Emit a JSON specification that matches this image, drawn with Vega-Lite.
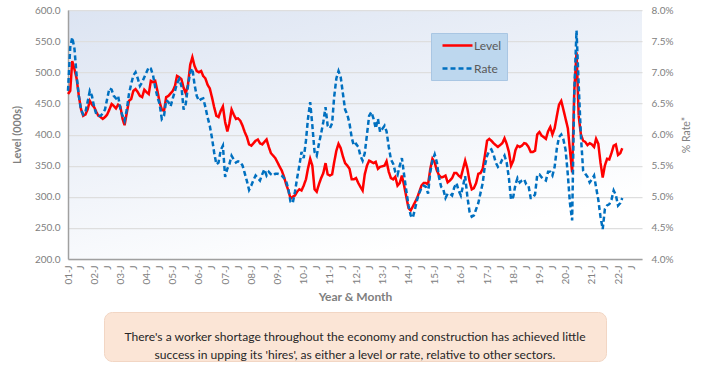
{
 "$schema": "https://vega.github.io/schema/vega-lite/v6.json",
 "background": "white",
 "padding": {"left": 11, "top": 5, "right": 5, "bottom": 5},
 "config": {"font": "Lato", "view": {"stroke": null}},
 "center": true,
 "bounds": "flush",
 "spacing": 53,
 "data": {"values": [
{"month":"2001-01-01","level":465,"rate":0.0670},{"month":"2001-02-01","level":470,"rate":0.0740},{"month":"2001-03-01","level":518,"rate":0.0756},{"month":"2001-04-01","level":505,"rate":0.0738},{"month":"2001-05-01","level":490,"rate":0.0695},{"month":"2001-06-01","level":462,"rate":0.0662},{"month":"2001-07-01","level":441,"rate":0.0640},{"month":"2001-08-01","level":430,"rate":0.0632},{"month":"2001-09-01","level":432,"rate":0.0636},{"month":"2001-10-01","level":440,"rate":0.0652},{"month":"2001-11-01","level":454,"rate":0.0670},{"month":"2001-12-01","level":448,"rate":0.0662},
{"month":"2002-01-01","level":444,"rate":0.0644},{"month":"2002-02-01","level":436,"rate":0.0632},{"month":"2002-03-01","level":430,"rate":0.0630},{"month":"2002-04-01","level":428,"rate":0.0630},{"month":"2002-05-01","level":425,"rate":0.0634},{"month":"2002-06-01","level":428,"rate":0.0640},{"month":"2002-07-01","level":432,"rate":0.0657},{"month":"2002-08-01","level":440,"rate":0.0674},{"month":"2002-09-01","level":449,"rate":0.0672},{"month":"2002-10-01","level":446,"rate":0.0662},{"month":"2002-11-01","level":442,"rate":0.0658},{"month":"2002-12-01","level":448,"rate":0.0662},
{"month":"2003-01-01","level":445,"rate":0.0641},{"month":"2003-02-01","level":425,"rate":0.0630},{"month":"2003-03-01","level":415,"rate":0.0622},{"month":"2003-04-01","level":435,"rate":0.0640},{"month":"2003-05-01","level":454,"rate":0.0665},{"month":"2003-06-01","level":457,"rate":0.0681},{"month":"2003-07-01","level":470,"rate":0.0695},{"month":"2003-08-01","level":473,"rate":0.0700},{"month":"2003-09-01","level":468,"rate":0.0690},{"month":"2003-10-01","level":462,"rate":0.0678},{"month":"2003-11-01","level":460,"rate":0.0684},{"month":"2003-12-01","level":472,"rate":0.0692},
{"month":"2004-01-01","level":468,"rate":0.0700},{"month":"2004-02-01","level":465,"rate":0.0708},{"month":"2004-03-01","level":486,"rate":0.0706},{"month":"2004-04-01","level":484,"rate":0.0695},{"month":"2004-05-01","level":486,"rate":0.0676},{"month":"2004-06-01","level":470,"rate":0.0660},{"month":"2004-07-01","level":452,"rate":0.0649},{"month":"2004-08-01","level":440,"rate":0.0625},{"month":"2004-09-01","level":438,"rate":0.0630},{"month":"2004-10-01","level":460,"rate":0.0655},{"month":"2004-11-01","level":462,"rate":0.0652},{"month":"2004-12-01","level":466,"rate":0.0645},
{"month":"2005-01-01","level":470,"rate":0.0658},{"month":"2005-02-01","level":478,"rate":0.0670},{"month":"2005-03-01","level":494,"rate":0.0682},{"month":"2005-04-01","level":492,"rate":0.0689},{"month":"2005-05-01","level":489,"rate":0.0678},{"month":"2005-06-01","level":475,"rate":0.0640},{"month":"2005-07-01","level":466,"rate":0.0649},{"month":"2005-08-01","level":480,"rate":0.0678},{"month":"2005-09-01","level":512,"rate":0.0700},{"month":"2005-10-01","level":524,"rate":0.0706},{"month":"2005-11-01","level":510,"rate":0.0680},{"month":"2005-12-01","level":502,"rate":0.0662},
{"month":"2006-01-01","level":500,"rate":0.0654},{"month":"2006-02-01","level":502,"rate":0.0657},{"month":"2006-03-01","level":494,"rate":0.0658},{"month":"2006-04-01","level":490,"rate":0.0644},{"month":"2006-05-01","level":480,"rate":0.0628},{"month":"2006-06-01","level":474,"rate":0.0614},{"month":"2006-07-01","level":460,"rate":0.0595},{"month":"2006-08-01","level":444,"rate":0.0571},{"month":"2006-09-01","level":430,"rate":0.0552},{"month":"2006-10-01","level":428,"rate":0.0555},{"month":"2006-11-01","level":438,"rate":0.0575},{"month":"2006-12-01","level":445,"rate":0.0582},
{"month":"2007-01-01","level":420,"rate":0.0532},{"month":"2007-02-01","level":405,"rate":0.0545},{"month":"2007-03-01","level":418,"rate":0.0552},{"month":"2007-04-01","level":440,"rate":0.0566},{"month":"2007-05-01","level":432,"rate":0.0560},{"month":"2007-06-01","level":425,"rate":0.0555},{"month":"2007-07-01","level":426,"rate":0.0557},{"month":"2007-08-01","level":422,"rate":0.0556},{"month":"2007-09-01","level":414,"rate":0.0550},{"month":"2007-10-01","level":404,"rate":0.0538},{"month":"2007-11-01","level":396,"rate":0.0525},{"month":"2007-12-01","level":384,"rate":0.0511},
{"month":"2008-01-01","level":382,"rate":0.0518},{"month":"2008-02-01","level":386,"rate":0.0527},{"month":"2008-03-01","level":390,"rate":0.0534},{"month":"2008-04-01","level":392,"rate":0.0530},{"month":"2008-05-01","level":386,"rate":0.0526},{"month":"2008-06-01","level":384,"rate":0.0536},{"month":"2008-07-01","level":388,"rate":0.0544},{"month":"2008-08-01","level":392,"rate":0.0534},{"month":"2008-09-01","level":380,"rate":0.0540},{"month":"2008-10-01","level":370,"rate":0.0536},{"month":"2008-11-01","level":366,"rate":0.0534},{"month":"2008-12-01","level":362,"rate":0.0537},
{"month":"2009-01-01","level":355,"rate":0.0537},{"month":"2009-02-01","level":348,"rate":0.0536},{"month":"2009-03-01","level":342,"rate":0.0534},{"month":"2009-04-01","level":332,"rate":0.0530},{"month":"2009-05-01","level":320,"rate":0.0525},{"month":"2009-06-01","level":310,"rate":0.0512},{"month":"2009-07-01","level":297,"rate":0.0492},{"month":"2009-08-01","level":300,"rate":0.0490},{"month":"2009-09-01","level":302,"rate":0.0508},{"month":"2009-10-01","level":308,"rate":0.0530},{"month":"2009-11-01","level":312,"rate":0.0550},{"month":"2009-12-01","level":310,"rate":0.0572},
{"month":"2010-01-01","level":318,"rate":0.0562},{"month":"2010-02-01","level":328,"rate":0.0590},{"month":"2010-03-01","level":345,"rate":0.0625},{"month":"2010-04-01","level":361,"rate":0.0652},{"month":"2010-05-01","level":350,"rate":0.0615},{"month":"2010-06-01","level":312,"rate":0.0572},{"month":"2010-07-01","level":308,"rate":0.0566},{"month":"2010-08-01","level":320,"rate":0.0585},{"month":"2010-09-01","level":330,"rate":0.0602},{"month":"2010-10-01","level":338,"rate":0.0620},{"month":"2010-11-01","level":354,"rate":0.0644},{"month":"2010-12-01","level":336,"rate":0.0614},
{"month":"2011-01-01","level":334,"rate":0.0610},{"month":"2011-02-01","level":336,"rate":0.0618},{"month":"2011-03-01","level":355,"rate":0.0660},{"month":"2011-04-01","level":374,"rate":0.0690},{"month":"2011-05-01","level":385,"rate":0.0702},{"month":"2011-06-01","level":378,"rate":0.0692},{"month":"2011-07-01","level":365,"rate":0.0666},{"month":"2011-08-01","level":354,"rate":0.0640},{"month":"2011-09-01","level":350,"rate":0.0632},{"month":"2011-10-01","level":345,"rate":0.0618},{"month":"2011-11-01","level":328,"rate":0.0595},{"month":"2011-12-01","level":328,"rate":0.0582},
{"month":"2012-01-01","level":330,"rate":0.0585},{"month":"2012-02-01","level":322,"rate":0.0580},{"month":"2012-03-01","level":316,"rate":0.0566},{"month":"2012-04-01","level":310,"rate":0.0558},{"month":"2012-05-01","level":336,"rate":0.0570},{"month":"2012-06-01","level":350,"rate":0.0600},{"month":"2012-07-01","level":358,"rate":0.0630},{"month":"2012-08-01","level":356,"rate":0.0636},{"month":"2012-09-01","level":354,"rate":0.0625},{"month":"2012-10-01","level":356,"rate":0.0610},{"month":"2012-11-01","level":345,"rate":0.0625},{"month":"2012-12-01","level":348,"rate":0.0604},
{"month":"2013-01-01","level":349,"rate":0.0609},{"month":"2013-02-01","level":350,"rate":0.0614},{"month":"2013-03-01","level":357,"rate":0.0605},{"month":"2013-04-01","level":340,"rate":0.0580},{"month":"2013-05-01","level":330,"rate":0.0560},{"month":"2013-06-01","level":328,"rate":0.0553},{"month":"2013-07-01","level":332,"rate":0.0540},{"month":"2013-08-01","level":318,"rate":0.0535},{"month":"2013-09-01","level":322,"rate":0.0550},{"month":"2013-10-01","level":334,"rate":0.0562},{"month":"2013-11-01","level":318,"rate":0.0535},{"month":"2013-12-01","level":300,"rate":0.0510},
{"month":"2014-01-01","level":282,"rate":0.0486},{"month":"2014-02-01","level":278,"rate":0.0470},{"month":"2014-03-01","level":284,"rate":0.0466},{"month":"2014-04-01","level":291,"rate":0.0480},{"month":"2014-05-01","level":298,"rate":0.0495},{"month":"2014-06-01","level":308,"rate":0.0506},{"month":"2014-07-01","level":318,"rate":0.0514},{"month":"2014-08-01","level":322,"rate":0.0518},{"month":"2014-09-01","level":322,"rate":0.0516},{"month":"2014-10-01","level":320,"rate":0.0505},{"month":"2014-11-01","level":345,"rate":0.0540},{"month":"2014-12-01","level":361,"rate":0.0558},
{"month":"2015-01-01","level":355,"rate":0.0568},{"month":"2015-02-01","level":342,"rate":0.0555},{"month":"2015-03-01","level":335,"rate":0.0532},{"month":"2015-04-01","level":331,"rate":0.0516},{"month":"2015-05-01","level":332,"rate":0.0512},{"month":"2015-06-01","level":334,"rate":0.0498},{"month":"2015-07-01","level":323,"rate":0.0505},{"month":"2015-08-01","level":326,"rate":0.0505},{"month":"2015-09-01","level":330,"rate":0.0502},{"month":"2015-10-01","level":338,"rate":0.0515},{"month":"2015-11-01","level":338,"rate":0.0522},{"month":"2015-12-01","level":334,"rate":0.0510},
{"month":"2016-01-01","level":331,"rate":0.0502},{"month":"2016-02-01","level":345,"rate":0.0518},{"month":"2016-03-01","level":358,"rate":0.0533},{"month":"2016-04-01","level":345,"rate":0.0500},{"month":"2016-05-01","level":325,"rate":0.0476},{"month":"2016-06-01","level":312,"rate":0.0468},{"month":"2016-07-01","level":314,"rate":0.0470},{"month":"2016-08-01","level":322,"rate":0.0480},{"month":"2016-09-01","level":337,"rate":0.0490},{"month":"2016-10-01","level":338,"rate":0.0506},{"month":"2016-11-01","level":345,"rate":0.0522},{"month":"2016-12-01","level":366,"rate":0.0550},
{"month":"2017-01-01","level":390,"rate":0.0566},{"month":"2017-02-01","level":393,"rate":0.0574},{"month":"2017-03-01","level":390,"rate":0.0576},{"month":"2017-04-01","level":386,"rate":0.0568},{"month":"2017-05-01","level":383,"rate":0.0555},{"month":"2017-06-01","level":380,"rate":0.0548},{"month":"2017-07-01","level":383,"rate":0.0552},{"month":"2017-08-01","level":386,"rate":0.0560},{"month":"2017-09-01","level":394,"rate":0.0566},{"month":"2017-10-01","level":385,"rate":0.0555},{"month":"2017-11-01","level":372,"rate":0.0530},{"month":"2017-12-01","level":350,"rate":0.0495},
{"month":"2018-01-01","level":358,"rate":0.0500},{"month":"2018-02-01","level":375,"rate":0.0520},{"month":"2018-03-01","level":382,"rate":0.0530},{"month":"2018-04-01","level":380,"rate":0.0523},{"month":"2018-05-01","level":382,"rate":0.0526},{"month":"2018-06-01","level":386,"rate":0.0528},{"month":"2018-07-01","level":385,"rate":0.0520},{"month":"2018-08-01","level":380,"rate":0.0518},{"month":"2018-09-01","level":372,"rate":0.0498},{"month":"2018-10-01","level":372,"rate":0.0498},{"month":"2018-11-01","level":374,"rate":0.0504},{"month":"2018-12-01","level":400,"rate":0.0535},
{"month":"2019-01-01","level":404,"rate":0.0536},{"month":"2019-02-01","level":398,"rate":0.0531},{"month":"2019-03-01","level":396,"rate":0.0528},{"month":"2019-04-01","level":393,"rate":0.0526},{"month":"2019-05-01","level":405,"rate":0.0540},{"month":"2019-06-01","level":412,"rate":0.0540},{"month":"2019-07-01","level":400,"rate":0.0534},{"month":"2019-08-01","level":410,"rate":0.0548},{"month":"2019-09-01","level":430,"rate":0.0578},{"month":"2019-10-01","level":448,"rate":0.0596},{"month":"2019-11-01","level":454,"rate":0.0600},{"month":"2019-12-01","level":440,"rate":0.0592},
{"month":"2020-01-01","level":425,"rate":0.0575},{"month":"2020-02-01","level":410,"rate":0.0535},{"month":"2020-03-01","level":375,"rate":0.0490},{"month":"2020-04-01","level":339,"rate":0.0462},{"month":"2020-05-01","level":470,"rate":0.0670},{"month":"2020-06-01","level":532,"rate":0.0767},{"month":"2020-07-01","level":430,"rate":0.0680},{"month":"2020-08-01","level":400,"rate":0.0598},{"month":"2020-09-01","level":390,"rate":0.0542},{"month":"2020-10-01","level":388,"rate":0.0537},{"month":"2020-11-01","level":383,"rate":0.0532},{"month":"2020-12-01","level":386,"rate":0.0523},
{"month":"2021-01-01","level":384,"rate":0.0528},{"month":"2021-02-01","level":380,"rate":0.0534},{"month":"2021-03-01","level":393,"rate":0.0515},{"month":"2021-04-01","level":385,"rate":0.0495},{"month":"2021-05-01","level":355,"rate":0.0468},{"month":"2021-06-01","level":331,"rate":0.0448},{"month":"2021-07-01","level":350,"rate":0.0480},{"month":"2021-08-01","level":361,"rate":0.0486},{"month":"2021-09-01","level":360,"rate":0.0488},{"month":"2021-10-01","level":370,"rate":0.0495},{"month":"2021-11-01","level":382,"rate":0.0510},{"month":"2021-12-01","level":384,"rate":0.0503},
{"month":"2022-01-01","level":367,"rate":0.0486},{"month":"2022-02-01","level":370,"rate":0.0490},{"month":"2022-03-01","level":378,"rate":0.0498}
 ]},
 "vconcat": [
  {
   "width": 574,
   "height": 249,
   "view": {"stroke": null, "fill": {"gradient": "linear", "x1": 0, "y1": 0, "x2": 0.5, "y2": 1, "stops": [{"offset": 0, "color": "#dce4f2"}, {"offset": 1, "color": "#ffffff"}]}},
   "encoding": {
    "x": {"field": "month", "type": "temporal",
     "scale": {"type": "utc", "domain": ["2001-01-01", "2022-12-01"]},
     "axis": {"title": "Year & Month", "titleFontSize": 12, "titleFontWeight": "bold", "titleColor": "#7f7f7f", "titlePadding": 8,
      "labelAngle": -90, "labelFontSize": 10, "labelColor": "#808080", "labelPadding": 6, "labelOverlap": false, "labelBound": false, "labelFlush": false,
      "ticks": false, "grid": false, "domainColor": "#a0a0a0", "domainWidth": 1.5,
      "tickCount": {"interval": "month", "step": 6},
      "labelExpr": "utcFormat(datum.value, '%m') == '01' ? utcFormat(datum.value, '%y') + '-J' : 'J'"}}
   },
   "layer": [
    {
     "mark": {"type": "line", "strokeWidth": 2.5},
     "encoding": {
      "y": {"field": "level", "type": "quantitative",
       "scale": {"domain": [200, 600], "zero": false, "nice": false},
       "axis": {"title": "Level (000s)", "values": [200, 250, 300, 350, 400, 450, 500, 550, 600], "format": ".1f",
        "grid": true, "gridColor": "#dedede", "gridWidth": 1.25, "ticks": false, "domainColor": "#a0a0a0", "domainWidth": 1.5,
        "labelColor": "#808080", "labelFontSize": 10, "labelPadding": 8,
        "titleFontSize": 11, "titleColor": "#7f7f7f", "titleFontWeight": "bold", "titlePadding": 12}},
      "color": {"datum": "Level", "type": "nominal", "scale": {"domain": ["Level", "Rate"], "range": ["#ff0000", "#0070c0"]},
       "legend": {"orient": "none", "legendX": 363, "legendY": 23, "title": null, "fillColor": "#bdd7ee", "strokeColor": "#a9c6e3", "padding": 5, "symbolType": "M-2.5,0H2.5", "symbolSize": 144, "symbolOffset": 14, "symbolStrokeWidth": 2.5, "labelFontSize": 12, "labelColor": "#595959", "labelOffset": 9, "rowPadding": 9}},
      "strokeDash": {"datum": "Level", "type": "nominal", "scale": {"domain": ["Level", "Rate"], "range": [[1, 0], [5, 3]]},
       "legend": {"orient": "none", "legendX": 363, "legendY": 23, "title": null, "fillColor": "#bdd7ee", "strokeColor": "#a9c6e3", "padding": 5, "symbolType": "M-2.5,0H2.5", "symbolSize": 144, "symbolOffset": 14, "symbolStrokeWidth": 2.5, "labelFontSize": 12, "labelColor": "#595959", "labelOffset": 9, "rowPadding": 9}}
     }
    },
    {
     "mark": {"type": "line", "strokeWidth": 2.5},
     "encoding": {
      "y": {"field": "rate", "type": "quantitative",
       "scale": {"domain": [0.04, 0.08], "zero": false, "nice": false},
       "axis": {"orient": "right", "title": "% Rate*", "values": [0.04, 0.045, 0.05, 0.055, 0.06, 0.065, 0.07, 0.075, 0.08], "format": ".1%",
        "grid": false, "ticks": false, "domain": false,
        "labelColor": "#808080", "labelFontSize": 10, "labelPadding": 9,
        "titleFontSize": 10.5, "titleColor": "#7f7f7f", "titleFontWeight": "normal", "titleAngle": 270, "titlePadding": 19}},
      "color": {"datum": "Rate", "type": "nominal"},
      "strokeDash": {"datum": "Rate", "type": "nominal"}
     }
    }
   ],
   "resolve": {"scale": {"y": "independent"}}
  },
  {
   "width": 502,
   "height": 49,
   "data": {"values": [{}]},
   "view": {"fill": "#fbe5d6", "cornerRadius": 8, "stroke": "#f2d6c4"},
   "mark": {"type": "text", "text": ["There's a worker shortage throughout the economy and construction has achieved little", "success in upping its 'hires', as either a level or rate, relative to other sectors."], "font": "Lato", "fontSize": 12.1, "lineHeight": 18, "color": "#262626", "align": "center", "baseline": "middle"}
  }
 ]
}
